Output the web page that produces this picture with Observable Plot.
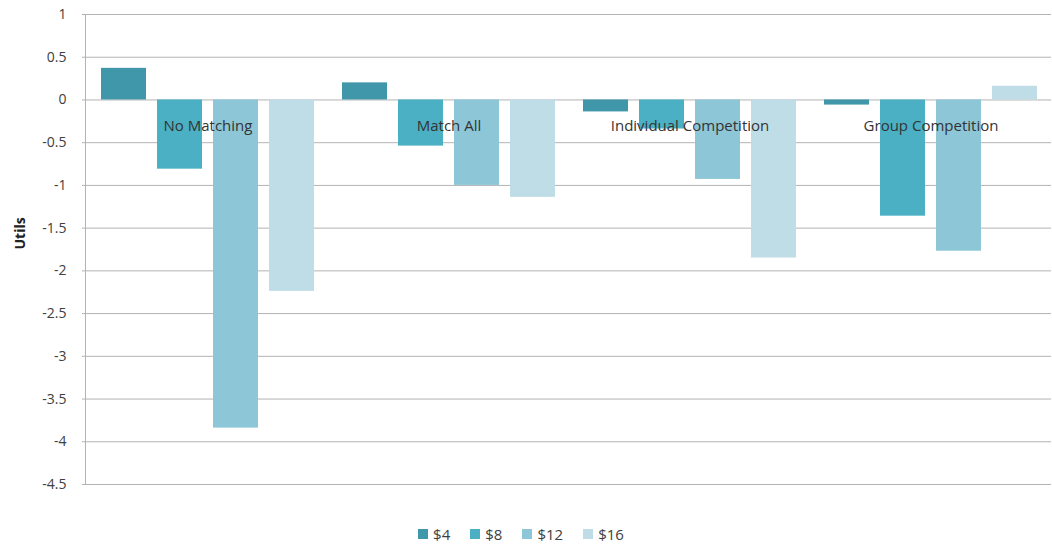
<!DOCTYPE html>
<html>
<head>
<meta charset="utf-8">
<script src="https://cdn.jsdelivr.net/npm/d3@7"></script>
<script src="https://cdn.jsdelivr.net/npm/@observablehq/plot@0.6"></script>
<style>
  html, body { margin: 0; padding: 0; background: #fff; }
  body { width: 1052px; height: 545px; overflow: hidden; font-family: "Open Sans", sans-serif; }
  #legend { display: flex; justify-content: center; gap: 20px; margin-top: 16px; padding-right: 10px; font-size: 15px; color: #404040; }
  #legend .item { display: flex; align-items: center; gap: 5px; }
  #legend .sw { width: 10px; height: 10px; display: inline-block; }
</style>
</head>
<body>
<div id="chart"></div>
<div id="legend"></div>
<script>
const groups = ["No Matching", "Match All", "Individual Competition", "Group Competition"];
const series = ["$4", "$8", "$12", "$16"];
const colors = ["#4097a9", "#4bb0c3", "#8cc6d7", "#bfdde6"];
const noMatching = [0.37, -0.81, -3.84, -2.24];
const matchAll = [0.20, -0.54, -1.00, -1.14];
const individualCompetition = [-0.14, -0.34, -0.93, -1.85];
const groupCompetition = [-0.06, -1.36, -1.77, 0.16];
const yTicks = [1, 0.5, 0, -0.5, -1, -1.5, -2, -2.5, -3, -3.5, -4, -4.5];

const values = [noMatching, matchAll, individualCompetition, groupCompetition];
const data = groups.flatMap((g, i) => series.map((s, j) => ({group: g, series: s, value: values[i][j]})));

const marginLeft = 85;
const chart = Plot.plot({
  width: 1052,
  height: 508,
  marginLeft,
  marginRight: 0,
  marginTop: 14,
  marginBottom: 24,
  style: {fontFamily: "Open Sans, sans-serif", fontSize: "14px", color: "#404040", background: "#fff"},
  fx: {domain: groups, padding: 0, axis: null},
  x: {domain: series, axis: null, paddingInner: 0.2, paddingOuter: 0.25},
  y: {domain: [-4.5, 1]},
  color: {domain: series, range: colors},
  marks: [
    Plot.gridY(yTicks, {stroke: "#b3b3b3", strokeOpacity: 1, strokeWidth: 1}),
    Plot.barY(data, {fx: "group", x: "series", y: "value", fill: "series"}),
    Plot.text(groups, {fx: d => d, text: d => d, y: -0.31, fill: "#333", fontSize: 15}),
    Plot.axisY(yTicks, {tickSize: 5, tickPadding: 16, stroke: "#b3b3b3", fill: "#404040", fontSize: 14, label: null, tickFormat: d => String(d)}),
    Plot.text(["Utils"], {fx: () => groups[0], frameAnchor: "left", dx: -67, rotate: -90, text: d => d, fontWeight: "bold", fontSize: 14, fill: "#222"})
  ]
});
document.getElementById("chart").appendChild(chart);

// left axis line drawn from the library's y scale
const ys = chart.scale("y");
d3.select(chart).append("line")
  .attr("x1", marginLeft + 0.5).attr("x2", marginLeft + 0.5)
  .attr("y1", ys.range[0]).attr("y2", ys.range[1])
  .attr("stroke", "#b3b3b3");

const legend = d3.select("#legend");
series.forEach((s, i) => {
  const it = legend.append("div").attr("class", "item");
  it.append("span").attr("class", "sw").style("background", colors[i]);
  it.append("span").text(s);
});
</script>
</body>
</html>
